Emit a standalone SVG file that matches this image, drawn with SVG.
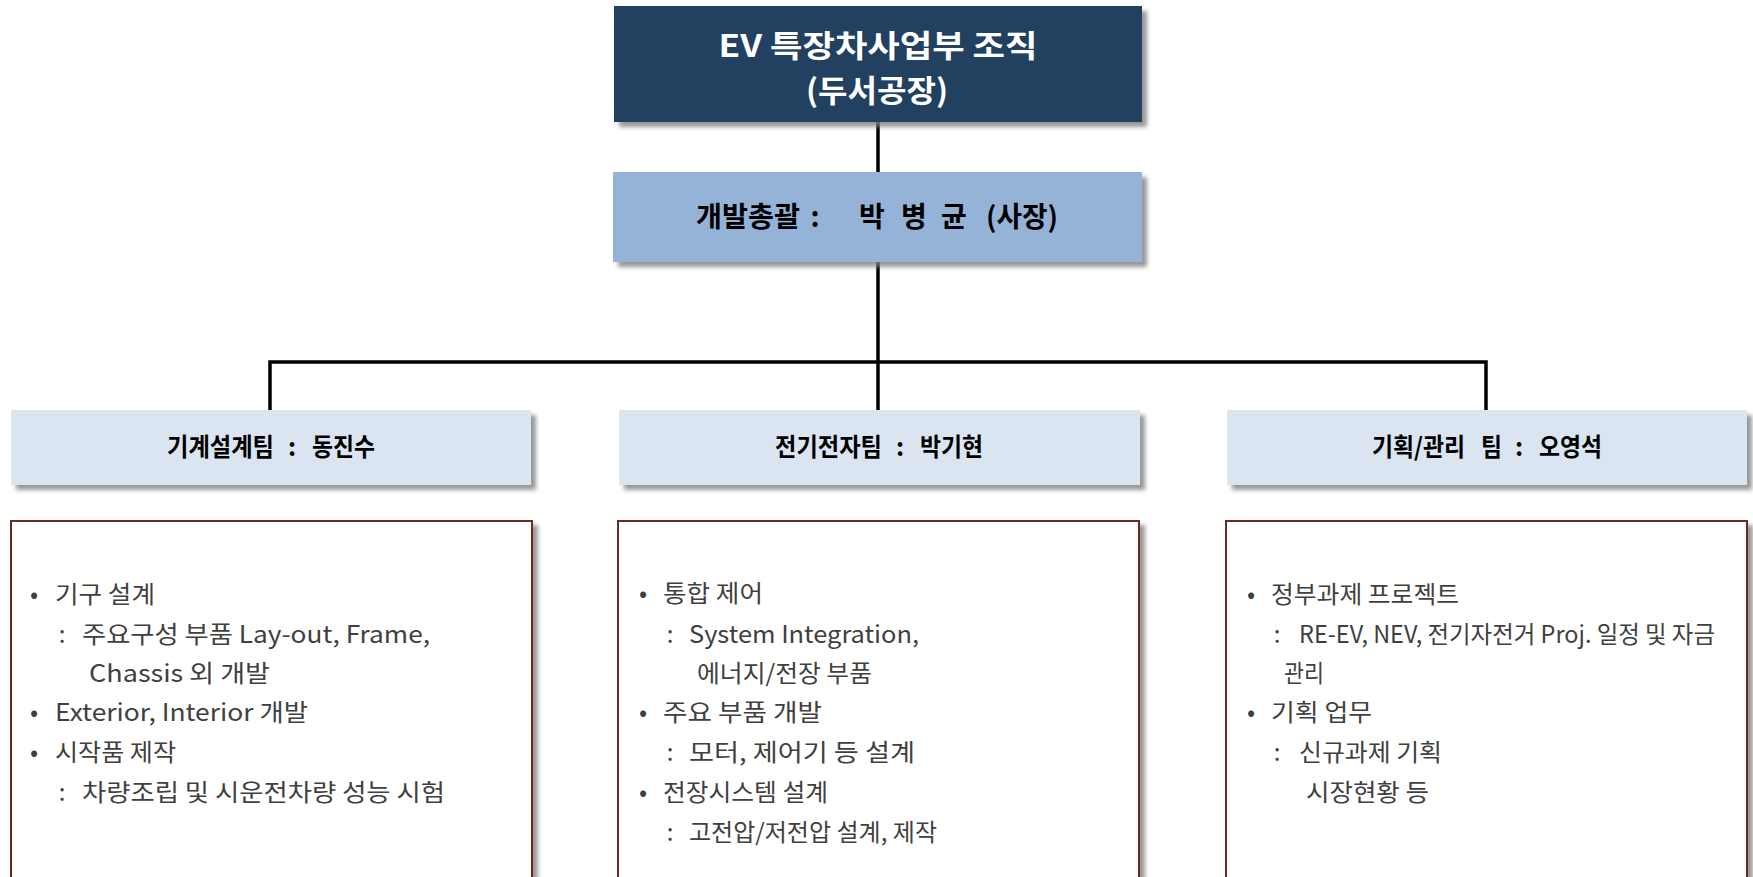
<svg xmlns="http://www.w3.org/2000/svg" width="1753" height="877" viewBox="0 0 1753 877">
  <defs>
    <filter id="sh" x="-5%" y="-10%" width="115%" height="130%">
      <feGaussianBlur in="SourceAlpha" stdDeviation="2.2"/>
      <feOffset dx="5" dy="5" result="b"/>
      <feFlood flood-color="#7f7f7f" flood-opacity="0.8"/>
      <feComposite in2="b" operator="in"/>
      <feMerge><feMergeNode/><feMergeNode in="SourceGraphic"/></feMerge>
    </filter>
  </defs>
  <style>
    text { font-family: "Noto Sans CJK KR", "Noto Sans", sans-serif; }
    .title { fill: #ffffff; font-size: 31px; font-weight: 700; text-anchor: middle; }
    .head { fill: #000000; font-size: 28px; font-weight: 700; }
    .team { fill: #000000; font-size: 25px; font-weight: 700; }
    .c { text-anchor: middle; }
    .body { fill: #404040; font-size: 24px; font-weight: 400; }
    .mk { fill: #404040; font-size: 24px; text-anchor: middle; }
    .conn { stroke: #000000; stroke-width: 3.5; fill: none; }
    .teambox { fill: #dbe5f1; }
    .content { fill: #ffffff; stroke: #6b2a28; stroke-width: 2; }
  </style>
  <rect width="1753" height="877" fill="#ffffff"/>

  <g id="connectors">
    <line class="conn" x1="878" y1="122" x2="878" y2="172"/>
    <line class="conn" x1="878" y1="262" x2="878" y2="410"/>
    <polyline class="conn" points="270,410 270,362 1486,362 1486,410"/>
  </g>

  <g id="node-top">
    <rect x="614" y="6" width="528" height="116" fill="#243f60" filter="url(#sh)"/>
    <text class="title" x="878" y="57" textLength="319" lengthAdjust="spacingAndGlyphs">EV 특장차사업부 조직</text>
    <text class="title" x="877" y="102" textLength="142" lengthAdjust="spacingAndGlyphs">(두서공장)</text>
  </g>

  <g id="node-head">
    <rect x="613" y="172" width="529" height="90" fill="#95b3d7" filter="url(#sh)"/>
    <text class="head" x="696" y="227" textLength="104" lengthAdjust="spacingAndGlyphs">개발총괄</text>
    <text class="head c" x="815" y="227">:</text>
    <text class="head c" x="872" y="227">박</text>
    <text class="head c" x="914" y="227">병</text>
    <text class="head c" x="954" y="227">균</text>
    <text class="head" x="986" y="227" textLength="72" lengthAdjust="spacingAndGlyphs">(사장)</text>
  </g>

  <g id="team-mech">
    <rect class="teambox" x="11" y="410" width="520" height="75" filter="url(#sh)"/>
    <text class="team" x="167" y="456" textLength="107" lengthAdjust="spacingAndGlyphs">기계설계팀</text>
    <text class="team c" x="292" y="456">:</text>
    <text class="team" x="312" y="456" textLength="63" lengthAdjust="spacingAndGlyphs">동진수</text>
  </g>
  <g id="team-elec">
    <rect class="teambox" x="619" y="410" width="521" height="75" filter="url(#sh)"/>
    <text class="team" x="775" y="456" textLength="107" lengthAdjust="spacingAndGlyphs">전기전자팀</text>
    <text class="team c" x="900" y="456">:</text>
    <text class="team" x="920" y="456" textLength="63" lengthAdjust="spacingAndGlyphs">박기현</text>
  </g>
  <g id="team-plan">
    <rect class="teambox" x="1227" y="410" width="520" height="75" filter="url(#sh)"/>
    <text class="team" x="1372" y="456" textLength="93" lengthAdjust="spacingAndGlyphs">기획/관리</text>
    <text class="team" x="1481" y="456" textLength="21" lengthAdjust="spacingAndGlyphs">팀</text>
    <text class="team c" x="1519" y="456">:</text>
    <text class="team" x="1539" y="456" textLength="63" lengthAdjust="spacingAndGlyphs">오영석</text>
  </g>

  <g id="content-mech">
    <rect class="content" x="11" y="521" width="521" height="357" filter="url(#sh)"/>
    <text class="mk" x="34" y="603">•</text>
    <text class="body" x="55" y="603" textLength="100" lengthAdjust="spacingAndGlyphs">기구 설계</text>
    <text class="mk" x="62" y="643">:</text>
    <text class="body" x="82" y="643" textLength="348" lengthAdjust="spacingAndGlyphs">주요구성 부품 Lay-out, Frame,</text>
    <text class="body" x="89" y="682" textLength="181" lengthAdjust="spacingAndGlyphs">Chassis 외 개발</text>
    <text class="mk" x="34" y="721">•</text>
    <text class="body" x="55" y="721" textLength="253" lengthAdjust="spacingAndGlyphs">Exterior, Interior 개발</text>
    <text class="mk" x="34" y="761">•</text>
    <text class="body" x="55" y="761" textLength="121" lengthAdjust="spacingAndGlyphs">시작품 제작</text>
    <text class="mk" x="62" y="801">:</text>
    <text class="body" x="82" y="801" textLength="363" lengthAdjust="spacingAndGlyphs">차량조립 및 시운전차량 성능 시험</text>
  </g>

  <g id="content-elec">
    <rect class="content" x="618" y="521" width="521" height="357" filter="url(#sh)"/>
    <text class="mk" x="643" y="602">•</text>
    <text class="body" x="663" y="602" textLength="100" lengthAdjust="spacingAndGlyphs">통합 제어</text>
    <text class="mk" x="670" y="643">:</text>
    <text class="body" x="689" y="643" textLength="230" lengthAdjust="spacingAndGlyphs">System Integration,</text>
    <text class="body" x="697" y="682" textLength="175" lengthAdjust="spacingAndGlyphs">에너지/전장 부품</text>
    <text class="mk" x="643" y="721">•</text>
    <text class="body" x="663" y="721" textLength="159" lengthAdjust="spacingAndGlyphs">주요 부품 개발</text>
    <text class="mk" x="670" y="761">:</text>
    <text class="body" x="689" y="761" textLength="226" lengthAdjust="spacingAndGlyphs">모터, 제어기 등 설계</text>
    <text class="mk" x="643" y="801">•</text>
    <text class="body" x="663" y="801" textLength="165" lengthAdjust="spacingAndGlyphs">전장시스템 설계</text>
    <text class="mk" x="670" y="841">:</text>
    <text class="body" x="689" y="841" textLength="248" lengthAdjust="spacingAndGlyphs">고전압/저전압 설계, 제작</text>
  </g>

  <g id="content-plan">
    <rect class="content" x="1226" y="521" width="521" height="357" filter="url(#sh)"/>
    <text class="mk" x="1251" y="603">•</text>
    <text class="body" x="1271" y="603" textLength="188" lengthAdjust="spacingAndGlyphs">정부과제 프로젝트</text>
    <text class="mk" x="1277" y="643">:</text>
    <text class="body" x="1299" y="643" textLength="416" lengthAdjust="spacingAndGlyphs">RE-EV, NEV, 전기자전거 Proj. 일정 및 자금</text>
    <text class="body" x="1284" y="682" textLength="40" lengthAdjust="spacingAndGlyphs">관리</text>
    <text class="mk" x="1251" y="721">•</text>
    <text class="body" x="1271" y="721" textLength="101" lengthAdjust="spacingAndGlyphs">기획 업무</text>
    <text class="mk" x="1277" y="761">:</text>
    <text class="body" x="1299" y="761" textLength="143" lengthAdjust="spacingAndGlyphs">신규과제 기획</text>
    <text class="body" x="1306" y="801" textLength="123" lengthAdjust="spacingAndGlyphs">시장현황 등</text>
  </g>
</svg>
